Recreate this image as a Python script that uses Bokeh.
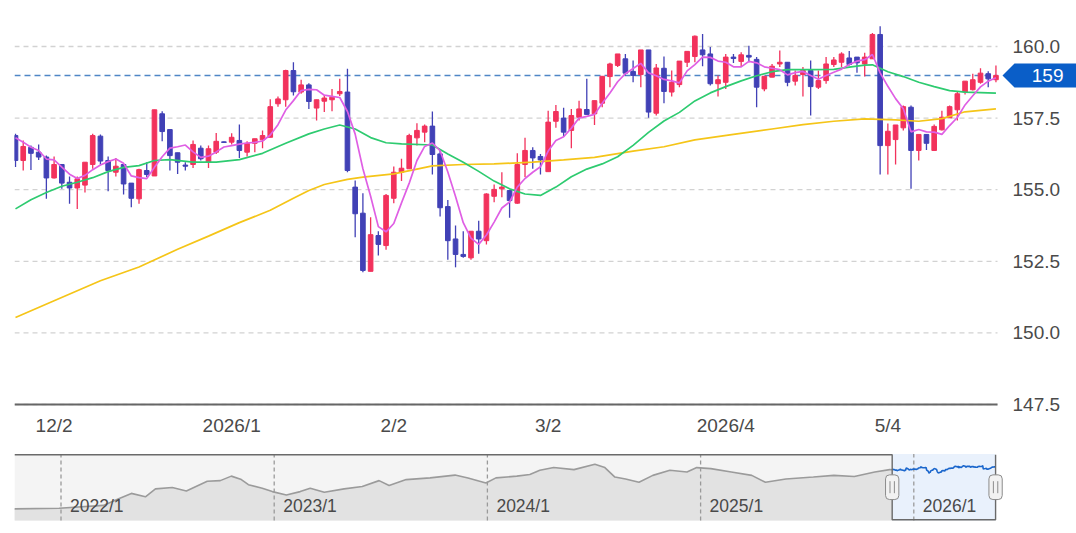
import pandas as pd
from bokeh.plotting import figure
from bokeh.models import BoxAnnotation, Arrow, Range1d, ColumnDataSource
from bokeh.layouts import column
from bokeh.embed import file_html
from bokeh.resources import INLINE
from bokeh.core.properties import value

# ---------------- data ----------------
open_ = [156.89, 156.02, 156.48, 156.31, 156.14, 155.41, 155.88, 155.26, 155.06, 155.16,
         155.88, 156.87, 156.02, 155.61, 155.88, 155.23, 154.68, 155.67, 155.48, 157.65,
         157.10, 156.29, 155.86, 155.88, 156.45, 155.96, 156.31, 156.67, 156.66, 156.72,
         156.31, 156.62, 156.74, 156.83, 158.00, 158.14, 159.16, 158.41, 158.66, 157.85,
         158.09, 158.14, 158.35, 158.41, 155.09, 154.18, 152.15, 153.40, 153.05, 154.70,
         155.61, 155.73, 156.81, 157.01, 157.22, 156.25, 154.41, 153.28, 152.74, 152.62,
         153.55, 153.22, 154.77, 155.03, 154.97, 154.53, 155.88, 156.37, 156.16, 155.63,
         157.39, 157.50, 157.07, 157.53, 157.80, 157.65, 158.02, 158.95, 159.34, 159.57,
         159.13, 159.02, 159.88, 157.67, 159.24, 158.41, 158.67, 159.45, 159.65, 159.88,
         159.74, 158.70, 158.75, 159.63, 159.48, 159.69, 159.55, 158.52, 158.93, 159.39,
         159.45, 158.79, 159.02, 159.16, 158.58, 158.81, 159.37, 159.45, 159.60, 159.63,
         159.39, 159.57, 160.42, 156.54, 156.75, 157.16, 157.88, 156.37, 156.93, 156.37,
         157.09, 157.51, 157.79, 158.41, 158.49, 158.75, 159.05, 158.84]
high = [156.95, 156.72, 156.54, 156.58, 156.19, 156.16, 155.90, 155.46, 155.46, 155.96,
        156.95, 156.93, 156.16, 156.11, 155.88, 155.23, 155.73, 155.96, 157.79, 157.74,
        157.10, 156.29, 155.96, 156.72, 156.54, 156.54, 156.98, 156.68, 156.97, 157.28,
        156.69, 156.78, 157.07, 158.16, 158.25, 159.19, 159.45, 158.84, 158.72, 158.14,
        158.29, 158.52, 158.87, 159.22, 155.32, 154.88, 154.04, 153.55, 154.85, 155.81,
        156.08, 156.95, 157.32, 157.28, 157.73, 156.37, 154.64, 153.75, 153.55, 153.55,
        153.92, 154.88, 155.18, 155.61, 154.97, 156.27, 156.81, 156.48, 156.25, 157.76,
        157.96, 157.86, 157.82, 158.11, 158.87, 158.11, 158.96, 159.43, 159.74, 159.74,
        159.51, 159.88, 159.88, 159.39, 159.65, 159.16, 159.49, 159.83, 160.38, 160.44,
        159.98, 158.99, 159.74, 159.74, 159.80, 160.03, 159.63, 158.96, 159.39, 159.86,
        159.45, 159.16, 159.28, 159.51, 159.16, 159.63, 159.63, 159.80, 159.84, 159.63,
        159.78, 160.47, 160.71, 157.31, 157.26, 157.94, 157.94, 156.93, 156.93, 157.28,
        157.76, 157.94, 158.41, 158.79, 159.05, 159.24, 159.14, 159.34]
low = [155.79, 155.67, 155.69, 156.04, 154.68, 155.39, 155.03, 154.51, 154.33, 154.90,
       155.73, 155.88, 154.95, 155.46, 154.83, 154.39, 154.51, 155.44, 155.48, 156.69,
       155.67, 155.55, 155.67, 155.76, 156.02, 155.76, 156.25, 156.64, 156.58, 156.11,
       156.16, 156.31, 156.45, 156.83, 157.90, 157.90, 158.29, 158.35, 157.82, 157.42,
       157.71, 157.74, 158.27, 155.61, 153.34, 152.12, 152.15, 152.70, 152.90, 154.53,
       155.30, 155.73, 156.54, 156.66, 155.53, 154.06, 152.55, 152.29, 152.62, 152.55,
       152.76, 153.09, 154.56, 154.74, 154.02, 154.51, 155.44, 155.73, 155.53, 155.63,
       157.16, 156.86, 156.45, 157.42, 157.63, 157.26, 157.88, 158.58, 159.28, 158.99,
       158.75, 158.58, 157.51, 157.59, 158.02, 158.25, 158.58, 159.28, 159.45, 159.31,
       158.64, 158.25, 158.52, 159.42, 159.30, 159.45, 157.88, 158.44, 158.93, 159.28,
       158.61, 158.64, 158.25, 157.59, 158.52, 158.70, 159.28, 159.28, 159.34, 159.08,
       158.95, 159.57, 155.53, 155.53, 155.88, 157.07, 155.03, 156.02, 156.39, 156.37,
       157.07, 157.51, 157.42, 158.32, 158.46, 158.70, 158.58, 158.75]
close = [156.02, 156.51, 156.27, 156.14, 155.41, 155.88, 155.23, 155.06, 155.38, 155.96,
         156.89, 156.00, 155.67, 155.82, 155.20, 154.70, 155.70, 155.53, 157.79, 157.03,
         156.19, 155.96, 155.82, 156.58, 156.08, 156.43, 156.69, 156.65, 156.83, 156.37,
         156.62, 156.78, 156.89, 157.90, 158.17, 159.16, 158.42, 158.66, 158.08, 158.14,
         158.20, 158.23, 158.43, 155.67, 154.16, 152.18, 153.43, 153.09, 154.80, 155.61,
         155.75, 156.89, 157.07, 157.22, 156.23, 154.37, 153.22, 152.74, 152.67, 153.55,
         153.28, 154.85, 155.01, 155.09, 154.62, 155.88, 156.37, 156.11, 156.04, 157.36,
         157.73, 157.01, 157.59, 157.82, 157.63, 158.11, 158.96, 159.39, 159.74, 159.07,
         158.99, 159.88, 157.71, 159.25, 158.43, 158.75, 159.49, 159.83, 160.36, 159.71,
         158.70, 158.84, 159.63, 159.58, 159.71, 159.63, 158.58, 158.96, 159.31, 159.45,
         158.75, 158.99, 159.16, 158.60, 158.81, 159.39, 159.53, 159.74, 159.37, 159.43,
         159.63, 160.42, 156.54, 157.04, 157.26, 157.90, 156.37, 156.93, 156.62, 157.21,
         157.53, 157.90, 158.35, 158.79, 158.84, 159.07, 158.87, 158.99]

# short moving average (magenta), one value per candle
ma_short = [156.81, 156.66, 156.48, 156.37, 156.07, 156.04, 155.79, 155.54, 155.39, 155.50,
            155.70, 155.86, 155.98, 156.07, 155.92, 155.48, 155.42, 155.39, 155.78, 156.15,
            156.45, 156.50, 156.56, 156.32, 156.13, 156.17, 156.32, 156.49, 156.54, 156.59,
            156.63, 156.65, 156.70, 156.91, 157.27, 157.78, 158.11, 158.46, 158.50, 158.49,
            158.30, 158.26, 158.22, 157.73, 156.94, 155.73, 154.77, 153.71, 153.53, 153.82,
            154.54, 155.23, 156.02, 156.51, 156.63, 156.36, 155.62, 154.76, 153.85, 153.31,
            153.09, 153.42, 153.87, 154.36, 154.57, 155.09, 155.39, 155.61, 155.80, 156.35,
            156.72, 156.85, 157.15, 157.50, 157.56, 157.63, 158.02, 158.38, 158.77, 159.05,
            159.23, 159.41, 159.08, 158.98, 158.85, 158.80, 158.73, 159.15, 159.37, 159.63,
            159.62, 159.49, 159.45, 159.29, 159.29, 159.48, 159.43, 159.29, 159.24, 159.19,
            159.01, 159.09, 159.13, 158.99, 158.86, 158.99, 159.10, 159.21, 159.37, 159.49,
            159.54, 159.72, 159.08, 158.61, 158.18, 157.83, 157.02, 157.10, 157.02, 157.01,
            156.93, 157.24, 157.52, 157.96, 158.28, 158.59, 158.79, 158.91]

# medium moving average (green), read at sample candles
ma_mid_idx = [0, 2, 4, 6, 8, 10, 12, 14, 16, 18, 20, 23, 26, 29, 32, 35, 38, 40, 42, 44,
              46, 48, 50, 54, 56, 58, 60, 62, 64, 66, 68, 70, 72, 74, 76, 78, 80, 82, 84, 86,
              88, 90, 92, 94, 96, 98, 100, 103, 106, 108, 110, 111, 113, 115, 117, 119, 121, 123, 125, 127]
ma_mid_val = [154.33, 154.65, 154.90, 155.12, 155.26, 155.42, 155.63, 155.78, 155.84, 156.02,
              156.05, 155.96, 155.96, 156.05, 156.27, 156.62, 156.95, 157.12, 157.26, 157.12,
              156.82, 156.64, 156.60, 156.56, 156.25, 155.96, 155.64, 155.30, 155.03, 154.85,
              154.80, 155.09, 155.45, 155.72, 155.90, 156.15, 156.55, 157.00, 157.40, 157.70,
              158.10, 158.38, 158.60, 158.80, 158.98, 159.12, 159.19, 159.19, 159.20, 159.28,
              159.35, 159.36, 159.12, 158.95, 158.75, 158.60, 158.46, 158.41, 158.39, 158.37]

# long moving average (yellow), read at sample candles
ma_long_idx = [0, 5, 11, 16, 21, 25, 29, 33, 36, 38, 40, 43, 45, 49, 52, 54, 58, 62, 67, 71,
               75, 80, 84, 88, 93, 98, 102, 106, 110, 114, 117, 120, 123, 127]
ma_long_val = [150.54, 151.12, 151.82, 152.30, 152.92, 153.38, 153.85, 154.28, 154.70, 154.97,
               155.18, 155.36, 155.44, 155.55, 155.72, 155.83, 155.88, 155.90, 155.96, 156.04,
               156.13, 156.35, 156.50, 156.74, 156.93, 157.12, 157.27, 157.39, 157.47, 157.44,
               157.39, 157.48, 157.72, 157.82]

first_date = "2025-11-25"
x_tick_idx = [5, 28, 49, 69, 92, 113]
x_tick_labels = ["12/2", "2026/1", "2/2", "3/2", "2026/4", "5/4"]
y_ticks = [147.5, 150.0, 152.5, 155.0, 157.5, 160.0]

# navigator history (fractional year, value)
hist_year = [2021.781, 2021.991, 2022.199, 2022.265, 2022.330, 2022.396, 2022.443, 2022.522, 2022.588, 2022.686,
             2022.747, 2022.799, 2022.846, 2022.879, 2022.944, 2022.991, 2023.057, 2023.122, 2023.169, 2023.235,
             2023.328, 2023.413, 2023.492, 2023.539, 2023.619, 2023.731, 2023.848, 2023.909, 2023.993, 2024.040,
             2024.138, 2024.199, 2024.246, 2024.311, 2024.406, 2024.504, 2024.551, 2024.598, 2024.648, 2024.711,
             2024.776, 2024.856, 2024.936, 2024.982, 2025.048, 2025.144, 2025.240, 2025.304, 2025.400, 2025.529,
             2025.625, 2025.721, 2025.817, 2025.887]
hist_val = [114.3, 115.0, 118.0, 124.6, 130.8, 127.2, 135.6, 137.1, 133.4, 143.7,
            144.4, 149.2, 145.5, 140.1, 136.3, 132.7, 129.0, 132.7, 136.3, 132.0,
            135.6, 138.2, 144.4, 139.3, 145.5, 147.3, 150.3, 147.3, 141.9, 147.3,
            149.2, 151.0, 155.4, 158.3, 156.1, 161.9, 158.3, 148.2, 146.2, 142.6,
            150.0, 155.4, 153.6, 158.3, 157.2, 153.6, 150.0, 142.6, 146.2, 148.2,
            150.0, 148.8, 153.6, 156.1]
nav_years = [2022, 2023, 2024, 2025, 2026]
nav_labels = ["2022/1", "2023/1", "2024/1", "2025/1", "2026/1"]

# ---------------- styles ----------------
FONT = "Liberation Sans"
UP, DOWN = "#f2325c", "#4141b6"
C_SHORT, C_MID, C_LONG = "#df5fe4", "#2ecb70", "#f5c518"
TEXT = "#4a4a4a"
W = 1076

# ---------------- main chart ----------------
n = len(close)
idx = list(range(n))
PX_PER_IDX = 7.72
PLOT_L, PLOT_R = 14, 997          # page x of the price area
FRAME_W = W - PLOT_L              # frame runs to the window edge (room for labels + tag)
X0 = -1.0 / PX_PER_IDX
Y_LO, Y_HI = 147.5, 161.257
PX_PER_Y = 394 / (Y_HI - Y_LO)    # 160.0 at y=46, 147.5 at y=404
FRAME_TOP = 10
MAIN_H = 440
Y_BOT = Y_LO - (MAIN_H - FRAME_TOP - 394) / PX_PER_Y


def px_to_x(px_page):
    return X0 + (px_page - PLOT_L) / PX_PER_IDX


p = figure(width=W, height=MAIN_H, x_range=Range1d(X0, X0 + FRAME_W / PX_PER_IDX),
           y_range=Range1d(Y_BOT, Y_HI), output_backend="svg", toolbar_location=None,
           x_axis_location=None, y_axis_location=None, min_border_left=PLOT_L,
           min_border_right=0, min_border_top=FRAME_TOP, min_border_bottom=0)
p.outline_line_color = None
p.background_fill_color = "white"
p.border_fill_color = "white"
p.grid.visible = False

xl, xr = px_to_x(PLOT_L), px_to_x(PLOT_R)
# horizontal dashed grid
p.segment(x0=xl, y0=y_ticks, x1=xr, y1=y_ticks, line_color="#d2d2d2",
          line_dash="5 4", line_width=1.3)
# y tick labels on the right
p.text(x=px_to_x(1012), y=y_ticks, text=[f"{t:.1f}" for t in y_ticks],
       text_font=value(FONT), text_font_size="19px", text_color=TEXT,
       text_baseline="middle", text_align="left")
# x tick labels below the axis line
p.text(x=x_tick_idx, y=[Y_LO - 21 / PX_PER_Y] * len(x_tick_idx), text=x_tick_labels,
       text_font=value(FONT), text_font_size="19px", text_color=TEXT,
       text_baseline="middle", text_align="center")

last = close[-1]
# current price dashed line
p.segment(x0=xl, y0=last, x1=xr, y1=last, line_color="#4f86c6",
          line_dash="6 4", line_width=1.5)

src = ColumnDataSource(dict(
    x=idx, h=high, l=low,
    top=[max(o, c) for o, c in zip(open_, close)],
    bot=[min(o, c) for o, c in zip(open_, close)],
    color=[UP if c >= o else DOWN for o, c in zip(open_, close)],
))
p.segment(x0="x", y0="l", x1="x", y1="h", line_color="color", line_width=1.3, source=src)
p.vbar(x="x", width=0.6, top="top", bottom="bot", fill_color="color",
       line_color="color", line_width=1, source=src)

p.line(ma_long_idx, ma_long_val, line_color=C_LONG, line_width=1.7)
p.line(ma_mid_idx, ma_mid_val, line_color=C_MID, line_width=1.7)
p.line(idx, ma_short, line_color=C_SHORT, line_width=1.7)

# bottom axis line
p.segment(x0=xl, y0=Y_LO, x1=xr, y1=Y_LO, line_color="#666666", line_width=2)

# price tag
half = 12 / PX_PER_Y
tip, rl, rr = px_to_x(1002), px_to_x(1014), px_to_x(W + 4)
p.patch(x=[tip, rl, rr, rr, rl], y=[last, last + half, last + half, last - half, last - half],
        fill_color="#0a5ec8", line_color=None)
p.text(x=[px_to_x(1063)], y=[last], text=[f"{last:.0f}"], text_color="white",
       text_font=value(FONT), text_font_size="19px", text_align="right",
       text_baseline="middle")

# ---------------- navigator ----------------
dates = pd.bdate_range(first_date, periods=n)
cand_year = [d.year + (d.dayofyear - 1) / (366 if d.is_leap_year else 365) for d in dates]
sel_start, sel_end = cand_year[0], cand_year[-1]

NAV_PX_PER_YEAR = 213.2
nav_x0 = nav_years[-1] - (913.3 - PLOT_L) / NAV_PX_PER_YEAR
nav_x1 = nav_x0 + (W - PLOT_L) / NAV_PX_PER_YEAR
BOX_LO, BOX_HI = 101.94, 172.76
NAV_PPU = 66.5 / (BOX_HI - BOX_LO)

nav = figure(width=W, height=84, x_range=Range1d(nav_x0, nav_x1),
             y_range=Range1d(BOX_LO - 2 / NAV_PPU, BOX_HI + 1.5 / NAV_PPU),
             output_backend="svg", toolbar_location=None,
             x_axis_location=None, y_axis_location=None,
             min_border_left=PLOT_L, min_border_right=0, min_border_top=12,
             min_border_bottom=2)
nav.grid.visible = False
nav.outline_line_color = None
nav.background_fill_color = "white"
nav.border_fill_color = "white"

gx = hist_year + [sel_start]
gy = hist_val + [close[0]]
nav.quad(left=nav_x0, right=sel_start, bottom=BOX_LO, top=BOX_HI,
         fill_color="#f4f4f4", line_color=None)
nav.varea(x=gx, y1=BOX_LO, y2=gy, fill_color="#e2e2e2")
nav.quad(left=sel_start, right=sel_end, bottom=BOX_LO, top=BOX_HI,
         fill_color="#e9f1fc", line_color=None)
nav.segment(x0=nav_years, y0=BOX_LO, x1=nav_years, y1=BOX_HI,
            line_color="#9a9a9a", line_dash="4 3", line_width=1.3)
nav.line(gx, gy, line_color="#9b9b9b", line_width=1.6)
nav.line(cand_year, close, line_color="#1a66cc", line_width=1.6)
nav.text(x=nav_years, y=[BOX_LO + 15 / NAV_PPU] * len(nav_years), text=nav_labels,
         text_font=value(FONT), text_font_size="17.5px", text_color=TEXT,
         text_baseline="middle", x_offset=9)
inset = 0.7 / NAV_PPU
nav.line([nav_x0, sel_start, sel_start, sel_end, sel_end],
         [BOX_HI - inset, BOX_HI - inset, BOX_LO + inset, BOX_LO + inset, BOX_HI - inset],
         line_color="#6a6a6a", line_width=1.4)

hw = 6.65 / NAV_PX_PER_YEAR
hh = 12.35 / NAV_PPU
cy = BOX_LO + 33.3 / NAV_PPU
g = 2.2 / NAV_PX_PER_YEAR
gl = 6.0 / NAV_PPU
for cx in (sel_start, sel_end):
    nav.add_layout(BoxAnnotation(left=cx - hw, right=cx + hw, bottom=cy - hh, top=cy + hh,
                                 fill_color="#f2f2f2", fill_alpha=1, line_color="#8c8c8c",
                                 line_alpha=1, line_width=1, border_radius=4))
    for dx in (-g, g):
        nav.add_layout(Arrow(end=None, x_start=cx + dx, y_start=cy - gl, x_end=cx + dx,
                             y_end=cy + gl, line_color="#8c8c8c", line_width=1))

layout = column(p, nav)
open("out.html", "w").write(file_html(layout, INLINE))
